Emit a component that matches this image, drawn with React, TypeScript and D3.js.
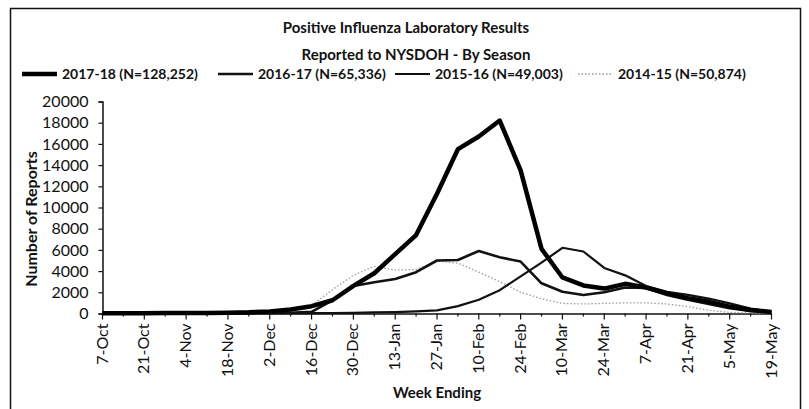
import React, { useRef, useEffect } from 'react';
import * as d3 from 'd3';

// week ending dates, one per point
const weeks = [
  '7-Oct', '14-Oct', '21-Oct', '28-Oct', '4-Nov', '11-Nov', '18-Nov', '25-Nov',
  '2-Dec', '9-Dec', '16-Dec', '23-Dec', '30-Dec', '6-Jan', '13-Jan', '20-Jan',
  '27-Jan', '3-Feb', '10-Feb', '17-Feb', '24-Feb', '3-Mar', '10-Mar', '17-Mar',
  '24-Mar', '31-Mar', '7-Apr', '14-Apr', '21-Apr', '28-Apr', '5-May', '12-May', '19-May',
];

const season2017 = [30, 30, 35, 40, 45, 55, 70, 110, 200, 380, 690, 1250, 2600, 3800, 5600, 7400, 11300, 15500, 16700, 18200, 13500, 6100, 3400, 2650, 2350, 2800, 2450, 1900, 1450, 1100, 650, 330, 150];
const season2016 = [20, 20, 20, 25, 25, 30, 30, 40, 50, 70, 150, 1250, 2600, 2950, 3250, 3900, 5000, 5050, 5900, 5300, 4900, 2850, 2050, 1750, 2000, 2450, 2400, 1750, 1300, 900, 500, 250, 120];
const season2015 = [10, 10, 10, 10, 15, 15, 20, 20, 25, 30, 35, 45, 60, 100, 130, 200, 300, 700, 1300, 2200, 3500, 4800, 6200, 5850, 4300, 3600, 2600, 2050, 1750, 1400, 950, 470, 150];
const season2014 = [20, 20, 25, 30, 40, 50, 70, 120, 200, 400, 750, 2250, 3600, 4450, 4100, 4150, 4950, 4750, 3900, 3000, 2000, 1400, 950, 900, 950, 1000, 1000, 900, 650, 300, 100, 50, 30];

const seriesLabels = ['2017-18 (N=128,252)', '2016-17 (N=65,336)', '2015-16 (N=49,003)', '2014-15 (N=50,874)'];
const yTicks = [0, 2000, 4000, 6000, 8000, 10000, 12000, 14000, 16000, 18000, 20000];

const W = 809;
const H = 409;
const FONT = 'Lato, "Open Sans", sans-serif';

export default function App() {
  const svgRef = useRef<SVGSVGElement | null>(null);

  useEffect(() => {
    if (!svgRef.current) return;
    const svg = d3.select(svgRef.current);
    svg.selectAll('*').remove();

    const x = d3.scalePoint<string>().domain(weeks).range([102.5, 771.5]);
    const y = d3.scaleLinear().domain([0, 20000]).range([313.5, 101.5]);

    // outer frame
    svg.append('rect')
      .attr('x', 10.5).attr('y', 8.5)
      .attr('width', 790).attr('height', 420)
      .attr('fill', 'white')
      .attr('stroke', '#111')
      .attr('stroke-width', 1.5);

    // titles
    svg.append('text')
      .attr('x', 406).attr('y', 33)
      .attr('text-anchor', 'middle')
      .attr('font-family', FONT).attr('font-weight', 'bold').attr('font-size', 15)
      .attr('fill', '#111')
      .text('Positive Influenza Laboratory Results');
    svg.append('text')
      .attr('x', 416).attr('y', 60)
      .attr('text-anchor', 'middle')
      .attr('font-family', FONT).attr('font-weight', 'bold').attr('font-size', 15)
      .attr('fill', '#111')
      .text('Reported to NYSDOH - By Season');

    const styles = [
      { w: 4.5, color: '#000', dash: null as string | null },
      { w: 2.6, color: '#111', dash: null },
      { w: 2.2, color: '#111', dash: null },
      { w: 1.3, color: '#9a9a9a', dash: '1.5,2' },
    ];
    const allSeries = [season2017, season2016, season2015, season2014];

    // legend
    const legendX = [22, 218, 395, 578];
    const legend = svg.append('g').attr('transform', 'translate(0,74)');
    seriesLabels.forEach((label, i) => {
      legend.append('line')
        .attr('x1', legendX[i]).attr('x2', legendX[i] + 35)
        .attr('y1', 0).attr('y2', 0)
        .attr('stroke', styles[i].color)
        .attr('stroke-width', styles[i].w)
        .attr('stroke-dasharray', styles[i].dash);
      legend.append('text')
        .attr('x', legendX[i] + 40).attr('y', 5)
        .attr('font-family', FONT).attr('font-weight', 'bold').attr('font-size', 14)
        .attr('fill', '#111')
        .text(label);
    });

    // y axis
    const yAxis = svg.append('g')
      .attr('transform', 'translate(102.5,0)')
      .call(d3.axisLeft(y).tickValues(yTicks).tickSize(4).tickPadding(10).tickFormat(d => String(d)));
    yAxis.select('.domain').attr('stroke', '#111').attr('stroke-width', 1.5);
    yAxis.selectAll('.tick line').attr('stroke', '#111').attr('stroke-width', 1.2);
    yAxis.selectAll('.tick text')
      .attr('font-family', FONT).attr('font-size', 16).attr('fill', '#111');

    // x axis: long ticks on labelled weeks, short ones between
    const xAxis = svg.append('g')
      .attr('transform', 'translate(0,313.5)')
      .call(d3.axisBottom(x).tickSize(0).tickPadding(0).tickFormat(() => ''));
    xAxis.select('.domain').attr('stroke', '#111').attr('stroke-width', 1.5);
    xAxis.selectAll('.tick').remove();
    weeks.forEach((wk, i) => {
      xAxis.append('line')
        .attr('x1', x(wk)!).attr('x2', x(wk)!)
        .attr('y1', 0).attr('y2', i % 2 === 0 ? 6 : 3)
        .attr('stroke', '#111').attr('stroke-width', 1.2);
      if (i % 2 === 0) {
        xAxis.append('text')
          .attr('transform', `translate(${x(wk)! + 5},10) rotate(-90)`)
          .attr('text-anchor', 'end')
          .attr('font-family', FONT).attr('font-size', 16).attr('fill', '#111')
          .text(wk);
      }
    });

    // axis titles
    svg.append('text')
      .attr('transform', 'translate(37,219) rotate(-90)')
      .attr('text-anchor', 'middle')
      .attr('font-family', FONT).attr('font-weight', 'bold').attr('font-size', 16)
      .attr('fill', '#111')
      .text('Number of Reports');
    svg.append('text')
      .attr('x', 437).attr('y', 398)
      .attr('text-anchor', 'middle')
      .attr('font-family', FONT).attr('font-weight', 'bold').attr('font-size', 15)
      .attr('fill', '#111')
      .text('Week Ending');

    // lines, oldest season drawn first
    const line = d3.line<number>()
      .x((_, i) => x(weeks[i])!)
      .y(d => y(d));
    for (let i = allSeries.length - 1; i >= 0; i--) {
      svg.append('path')
        .datum(allSeries[i])
        .attr('fill', 'none')
        .attr('stroke', styles[i].color)
        .attr('stroke-width', styles[i].w)
        .attr('stroke-linejoin', 'round')
        .attr('stroke-dasharray', styles[i].dash)
        .attr('d', line);
    }
  }, []);

  return (
    <svg
      ref={svgRef}
      width={W}
      height={H}
      style={{ position: 'absolute', left: 0, top: 0, background: 'white' }}
    />
  );
}
